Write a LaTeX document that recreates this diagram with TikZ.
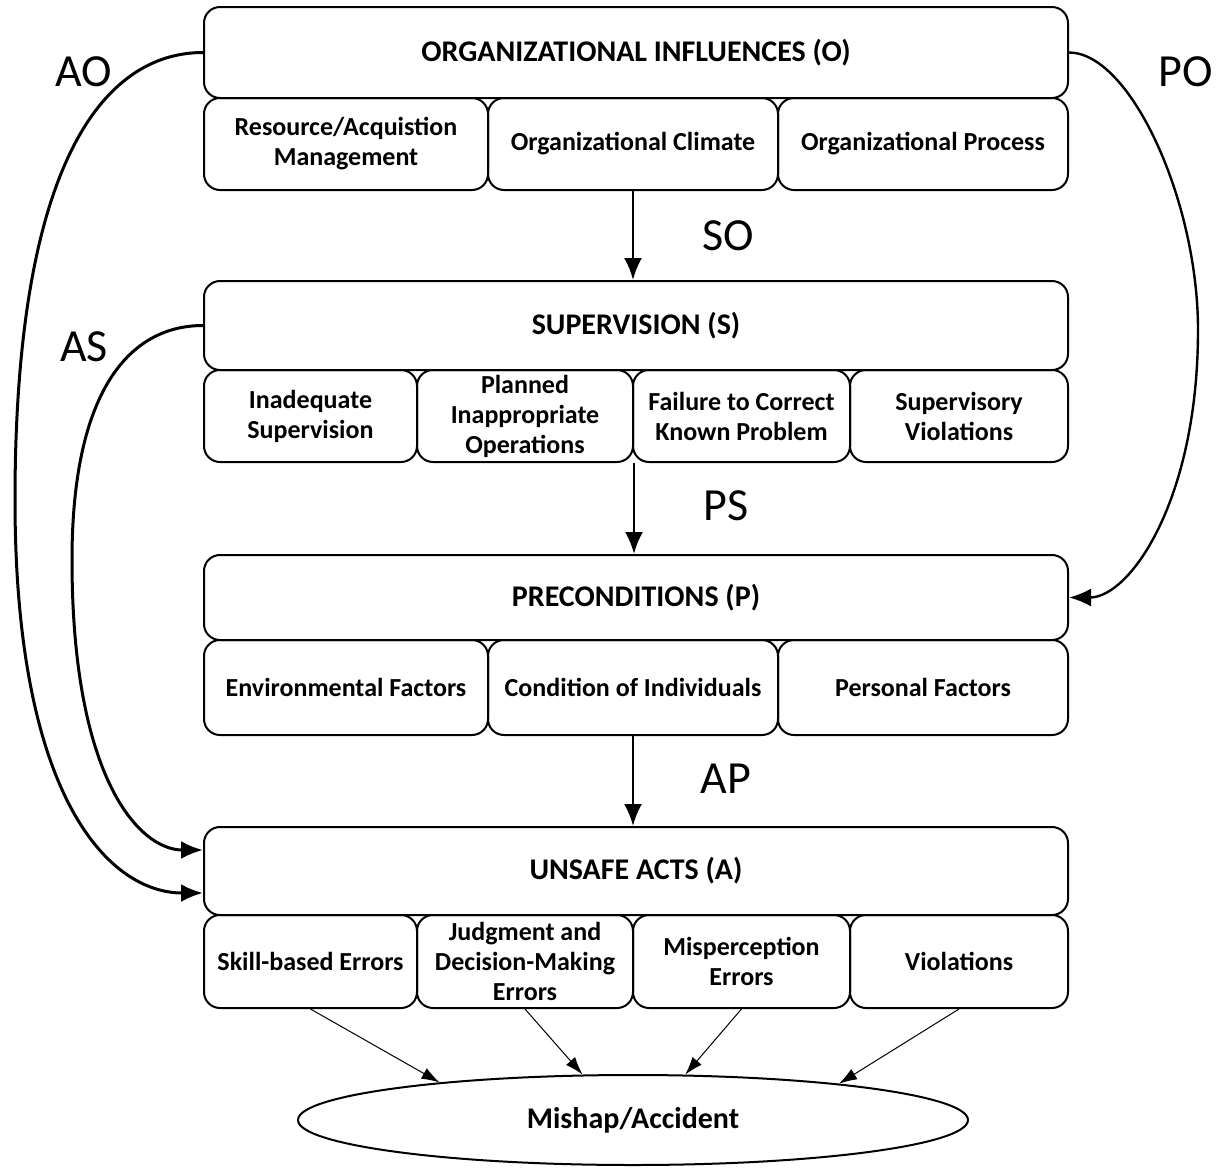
\documentclass[tikz,border=0pt]{standalone}
\usepackage{fontspec}
\setmainfont{Carlito}
\usetikzlibrary{arrows.meta,shapes.geometric,calc}
\begin{document}
\begin{tikzpicture}[x=0.5pt,y=-0.5pt,
 main/.style={draw,line width=1pt,rounded corners=8pt,minimum width=432pt,inner sep=0pt,font=\bfseries\fontsize{15}{17}\selectfont},
 sub/.style={draw,line width=1pt,rounded corners=8pt,align=center,inner sep=0pt,font=\bfseries\fontsize{13}{15}\selectfont},
 lbl/.style={font=\fontsize{23}{26}\selectfont},
 bigarrow/.style={line width=1.3pt,-{Latex[length=11pt,width=9pt]}},
 curve/.style={line width=1.5pt,-{Latex[length=11pt,width=9pt]}},
 thinarrow/.style={line width=0.5pt,-{Latex[length=9pt,width=6pt]}}]
\useasboundingbox (0,0) rectangle (1222,1168);
% Organizational
\node[main,minimum height=45.5pt] (O) at (636,52.5) {ORGANIZATIONAL INFLUENCES (O)};
\node[sub,minimum width=142pt,minimum height=46pt] (o1) at (346,144) {Resource/Acquistion\\Management};
\node[sub,minimum width=145pt,minimum height=46pt] (o2) at (633,144) {Organizational Climate};
\node[sub,minimum width=145pt,minimum height=46pt] (o3) at (923,144) {Organizational Process};
% Supervision
\node[main,minimum height=44.5pt] (S) at (636,325.5) {SUPERVISION (S)};
\node[sub,minimum width=106.5pt,minimum height=46pt] (s1) at (310.5,416) {Inadequate\\Supervision};
\node[sub,minimum width=108pt,minimum height=46pt] (s2) at (525,416) {Planned\\Inappropriate\\Operations};
\node[sub,minimum width=108.5pt,minimum height=46pt] (s3) at (741.5,416) {Failure to Correct\\Known Problem};
\node[sub,minimum width=109pt,minimum height=46pt] (s4) at (959,416) {Supervisory\\Violations};
% Preconditions
\node[main,minimum height=42.5pt] (P) at (636,597.5) {PRECONDITIONS (P)};
\node[sub,minimum width=142pt,minimum height=47.5pt] (p1) at (346,687.5) {Environmental Factors};
\node[sub,minimum width=145pt,minimum height=47.5pt] (p2) at (633,687.5) {Condition of Individuals};
\node[sub,minimum width=145pt,minimum height=47.5pt] (p3) at (923,687.5) {Personal Factors};
% Unsafe acts
\node[main,minimum height=44pt] (A) at (636,871) {UNSAFE ACTS (A)};
\node[sub,minimum width=106.5pt,minimum height=46.5pt] (a1) at (310.5,961.5) {Skill-based Errors};
\node[sub,minimum width=108pt,minimum height=46.5pt] (a2) at (525,961.5) {Judgment and\\Decision-Making\\Errors};
\node[sub,minimum width=108.5pt,minimum height=46.5pt] (a3) at (741.5,961.5) {Misperception\\Errors};
\node[sub,minimum width=109pt,minimum height=46.5pt] (a4) at (959,961.5) {Violations};
% Mishap
\node[draw,ellipse,line width=1pt,minimum width=335pt,minimum height=45pt,inner sep=0pt,font=\bfseries\fontsize{15}{17}\selectfont] (M) at (633,1120) {Mishap/Accident};
% labels
\node[lbl] (lAO) at (84,72) {AO};
\node[lbl] (lPO) at (1186,72) {PO};
\node[lbl] (lSO) at (728,236) {SO};
\node[lbl] (lAS) at (84,347) {AS};
\node[lbl] (lPS) at (726,506) {PS};
\node[lbl] (lAP) at (726,779) {AP};
% vertical arrows
\draw[bigarrow] (o2.south) -- (o2.south |- S.north);
\draw[bigarrow] (s2.south east) -- (s2.south east |- P.north);
\draw[bigarrow] (p2.south) -- (p2.south |- A.north);
% curves
\draw[curve] (O.west) .. controls (110,52.5) and (15,150) .. (15,500) .. controls (15,800) and (110,893) .. ($(A.west)+(0,22)$);
\draw[curve] (S.west) .. controls (130,325.5) and (72,390) .. (72,560) .. controls (72,780) and (140,850) .. ($(A.west)+(0,-21)$);
\draw[curve,line width=1.2pt] (O.east) .. controls (1130,52.5) and (1198,200) .. (1198,330) .. controls (1198,500) and (1130,597.5) .. (P.east);
% to mishap
\draw[thinarrow] (a1.south) -- (M.169.9);
\draw[thinarrow] (a2.south) -- (M.138.9);
\draw[thinarrow] (a3.south) -- (M.41.1);
\draw[thinarrow] (a4.south) -- (M.10.3);
\end{tikzpicture}
\end{document}
